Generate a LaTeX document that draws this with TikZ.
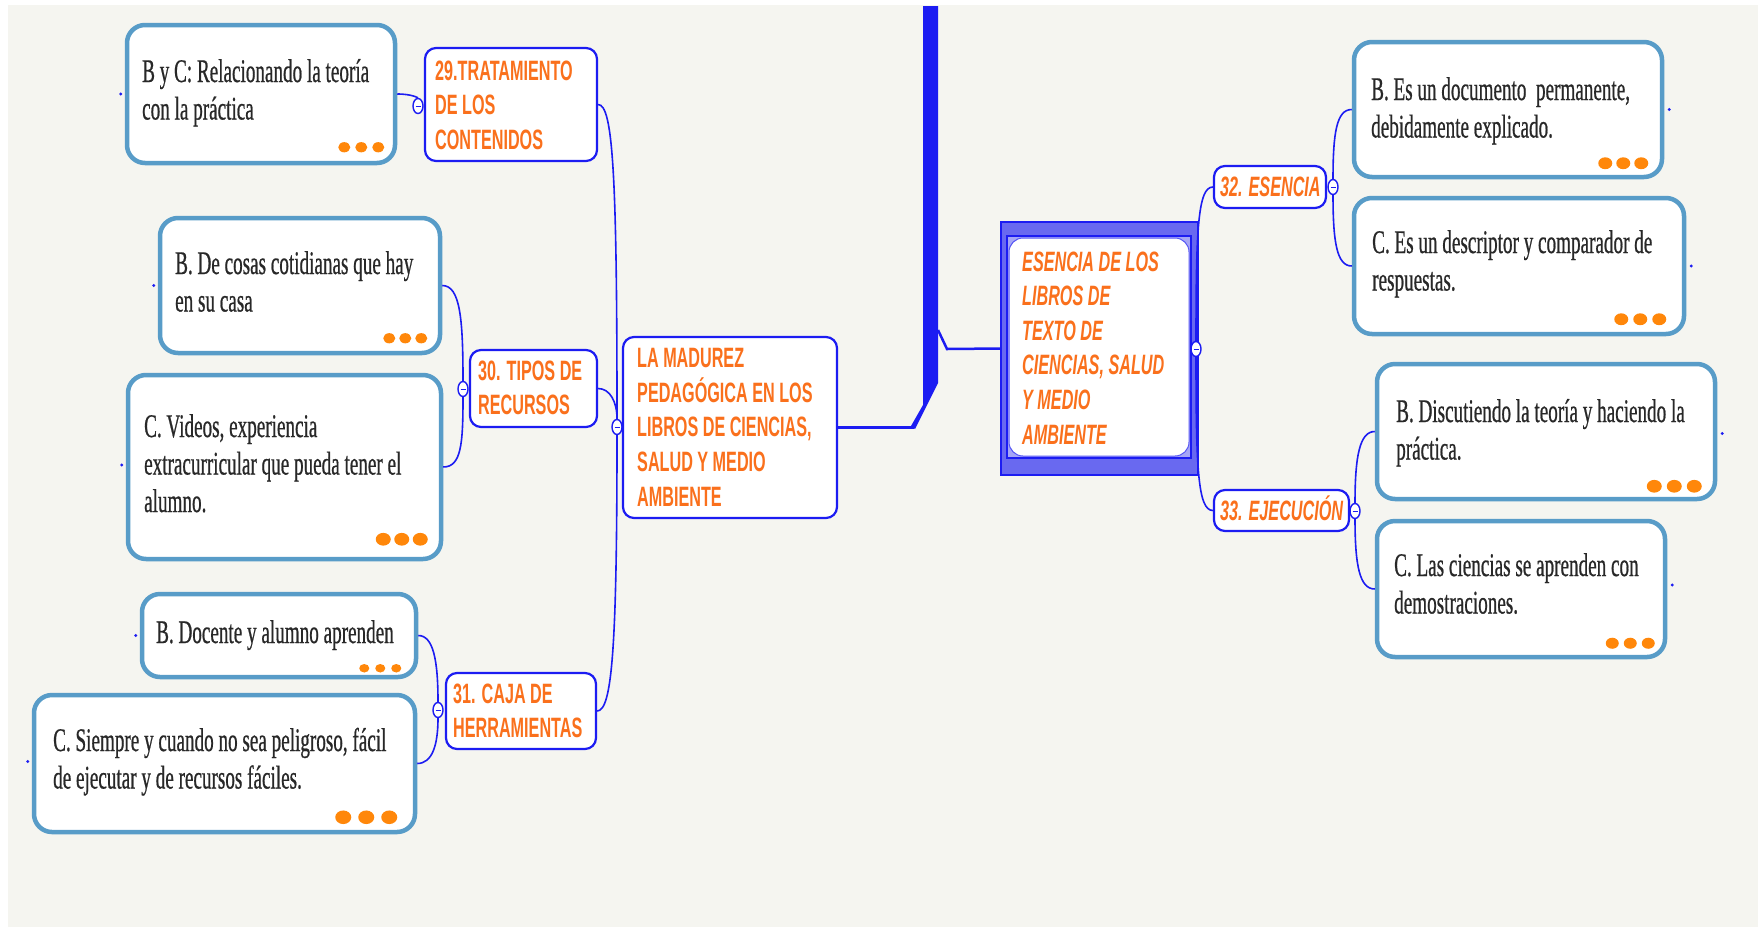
\documentclass[tikz,border=0pt]{standalone}
\usepackage{fontspec}
\usetikzlibrary{calc,shapes.geometric}
\newfontfamily\leaffont[FakeStretch=0.58,FakeBold=0.6]{Liberation Serif}
\newfontfamily\topicfont[FakeStretch=0.578]{Liberation Sans}
\definecolor{bgcol}{RGB}{245,245,240}
\definecolor{linkblue}{RGB}{28,28,242}
\definecolor{leafblue}{RGB}{88,156,200}
\definecolor{topicorange}{RGB}{250,112,28}
\definecolor{dotorange}{RGB}{255,135,10}
\definecolor{leaftext}{RGB}{40,40,40}
\definecolor{frameblue}{RGB}{105,105,240}
\newcommand{\mlines}[1]{\begin{tabular}[t]{@{}l@{}}#1\end{tabular}}
\newcommand{\orangedots}[5]{%
  \foreach \k in {0,1,2} {\fill[dotorange] ($(#1.south east)+(-#2-\k*#4,-#3)$) ellipse ({#5} and {#5*0.85});}}
\newcommand{\link}[4]{%
  \draw[conn] (#1) .. controls ($(#1)+(#3,0)$) and ($(#2)+(0,#4)$) .. (#2);}
\newcommand{\freeend}[1]{\fill[linkblue] (#1) circle (1.7);}
\begin{document}
\begin{tikzpicture}[x=1pt,y=-1pt,
  leafbox/.style={draw=leafblue, line width=4.5pt, rounded corners=18pt, fill=white, inner sep=0pt},
  topicbox/.style={draw=linkblue, line width=2.2pt, rounded corners=11pt, fill=white, inner sep=0pt},
  leaftxt/.style={anchor=base west, inner sep=0pt, text=leaftext, font=\leaffont\fontsize{33}{37.5}\selectfont},
  topictxt/.style={anchor=base west, inner sep=0pt, text=topicorange, font=\topicfont\bfseries\fontsize{28}{34.6}\selectfont},
  topicital/.style={topictxt, font=\topicfont\bfseries\itshape\fontsize{28}{34.6}\selectfont},
  conn/.style={draw=linkblue, line width=1.6pt},
  collapse/.style={draw=linkblue, fill=white, ellipse, minimum width=10pt, minimum height=15pt, inner sep=0pt, line width=1.4pt,
    path picture={\draw[linkblue, line width=1pt] ([xshift=-2.5pt]path picture bounding box.center) -- ([xshift=2.5pt]path picture bounding box.center);}}
]
\useasboundingbox (0,0) rectangle (1758,927);
\fill[white] (0,0) rectangle (1758,927);
\fill[bgcol] (8,5) rectangle (1758,927);

% ---- root bar ----
\fill[linkblue] (923,6) -- (938,6) -- (938,383) -- (915,429) -- (911,426) -- (923,405) -- cycle;
\coordinate (rootjoin) at (914,427.5);
\coordinate (barjoin) at (938,330);

% ---- left leaves ----
\node[leafbox, minimum width=268, minimum height=138] (bc) at (261,94) {};
\node[leaftxt] (bctx) at (142,82) {\mlines{B y C: Relacionando la teoría\\con la práctica}};
\orangedots{bc}{19}{18}{17}{6}

\node[leafbox, minimum width=280, minimum height=135] (bcosas) at (300,285.5) {};
\node[leaftxt] (bcosastx) at (175,274) {\mlines{B. De cosas cotidianas que hay\\en su casa}};
\orangedots{bcosas}{21}{17}{16}{6}

\node[leafbox, minimum width=313, minimum height=184] (cvideos) at (284.5,467) {};
\node[leaftxt] (cvideostx) at (144,437) {\mlines{C. Videos, experiencia\\extracurricular que pueda tener el\\alumno.}};
\orangedots{cvideos}{23}{22}{18.5}{7.5}

\node[leafbox, minimum width=274, minimum height=83] (bdoc) at (279,635.5) {};
\node[leaftxt] (bdoctx) at (156,643) {B. Docente y alumno aprenden};
\orangedots{bdoc}{22}{11}{16}{5}

\node[leafbox, minimum width=381, minimum height=137] (csiempre) at (224.5,763.5) {};
\node[leaftxt] (csiempretx) at (53,751) {\mlines{C. Siempre y cuando no sea peligroso, fácil\\de ejecutar y de recursos fáciles.}};
\orangedots{csiempre}{28}{17}{23}{8}

% ---- right leaves ----
\node[leafbox, minimum width=308, minimum height=135] (bes) at (1508,109.5) {};
\node[leaftxt] (bestx) at (1371,100) {\mlines{B. Es un documento\ \ permanente,\\debidamente explicado.}};
\orangedots{bes}{23}{16}{18}{7}

\node[leafbox, minimum width=330, minimum height=136] (ces) at (1519,266) {};
\node[leaftxt] (cestx) at (1372,253) {\mlines{C. Es un descriptor y comparador de\\respuestas.}};
\orangedots{ces}{27}{17}{19}{7}

\node[leafbox, minimum width=338, minimum height=135] (bdisc) at (1546,431.5) {};
\node[leaftxt] (bdisctx) at (1396,422) {\mlines{B. Discutiendo la teoría y haciendo la\\práctica.}};
\orangedots{bdisc}{23}{15}{20}{7.5}

\node[leafbox, minimum width=288, minimum height=136] (clas) at (1521,589) {};
\node[leaftxt] (clastx) at (1394,576) {\mlines{C. Las ciencias se aprenden con\\demostraciones.}};
\orangedots{clas}{19}{16}{18}{6.5}

% ---- topic boxes ----
\node[topicbox, minimum width=172, minimum height=113] (t29) at (511,104.5) {};
\node[topictxt] (t29tx) at (435,80) {\mlines{29.TRATAMIENTO\\DE LOS\\CONTENIDOS}};

\node[topicbox, minimum width=127, minimum height=77] (t30) at (533.5,388.5) {};
\node[topictxt] (t30tx) at (478,380) {\mlines{30. TIPOS DE\\RECURSOS}};

\node[topicbox, minimum width=150, minimum height=76] (t31) at (521,711) {};
\node[topictxt] (t31tx) at (453,703) {\mlines{31. CAJA DE\\HERRAMIENTAS}};

\node[topicbox, minimum width=214, minimum height=181] (main) at (730,427.5) {};
\node[topictxt] (maintx) at (637,367) {\mlines{LA MADUREZ\\PEDAGÓGICA EN LOS\\LIBROS DE CIENCIAS,\\SALUD Y MEDIO\\AMBIENTE}};

\node[topicbox, minimum width=112, minimum height=42] (t32) at (1270,187) {};
\node[topicital] (t32tx) at (1220,196) {32. ESENCIA};

\node[topicbox, minimum width=135, minimum height=41] (t33) at (1281.5,510.5) {};
\node[topicital] (t33tx) at (1220,520) {33. EJECUCIÓN};

% ---- central ESENCIA box ----
\node[draw=linkblue, line width=2pt, fill=frameblue, minimum width=197, minimum height=253, inner sep=0pt] (esencia) at (1099.5,348.5) {};
\draw[linkblue, line width=2pt, fill=frameblue!60] ($(esencia.north west)+(7,15)$) rectangle ($(esencia.south east)+(-8,-18)$);
\draw[linkblue!75, line width=1pt, fill=white, rounded corners=14pt] ($(esencia.north west)+(9,17)$) rectangle ($(esencia.south east)+(-10,-20)$);
\node[topicital] (esenciatx) at (1022,271) {\mlines{ESENCIA DE LOS\\LIBROS DE\\TEXTO DE\\CIENCIAS, SALUD\\Y MEDIO\\AMBIENTE}};

% ---- collapse markers ----
\node[collapse] (c29) at (418,106) {};
\node[collapse] (c30) at (463,389) {};
\node[collapse] (cmain) at (617,427) {};
\node[collapse] (c31) at (438,710) {};
\node[collapse] (cesen) at (1196,349) {};
\node[collapse] (c32) at (1333,187) {};
\node[collapse] (c33) at (1355,511) {};

% ---- root connections ----
\draw[linkblue, line width=2.5pt] (main.east) -- (rootjoin);
\draw[linkblue, line width=2.5pt] (barjoin) -- ++(9,19) -- (esencia.west);

% ---- branch connectors ----
\link{bc.east}{c29}{15}{-8}
\link{bcosas.east}{c30}{18}{-70}
\link{cvideos.east}{c30}{18}{55}
\link{t29.east}{cmain}{15}{-250}
\link{t30.east}{cmain}{12}{-25}
\link{t31.east}{cmain}{15}{220}
\link{bdoc.east}{c31}{15}{-50}
\link{csiempre.east}{c31}{15}{35}
\link{t32.west}{cesen}{-15}{-120}
\link{t33.west}{cesen}{-15}{120}
\link{bes.west}{c32}{-15}{-55}
\link{ces.west}{c32}{-15}{55}
\link{bdisc.west}{c33}{-15}{-55}
\link{clas.west}{c33}{-15}{55}

% ---- free ends ----
\freeend{$(bc.west)+(-4,0)$}
\freeend{$(bcosas.west)+(-4,0)$}
\freeend{$(cvideos.west)+(-4,-2)$}
\freeend{$(bdoc.west)+(-4,0)$}
\freeend{$(csiempre.west)+(-4,-2)$}
\freeend{$(bes.east)+(5,0)$}
\freeend{$(ces.east)+(5,0)$}
\freeend{$(bdisc.east)+(5,2)$}
\freeend{$(clas.east)+(5,-4)$}
\end{tikzpicture}
\end{document}
